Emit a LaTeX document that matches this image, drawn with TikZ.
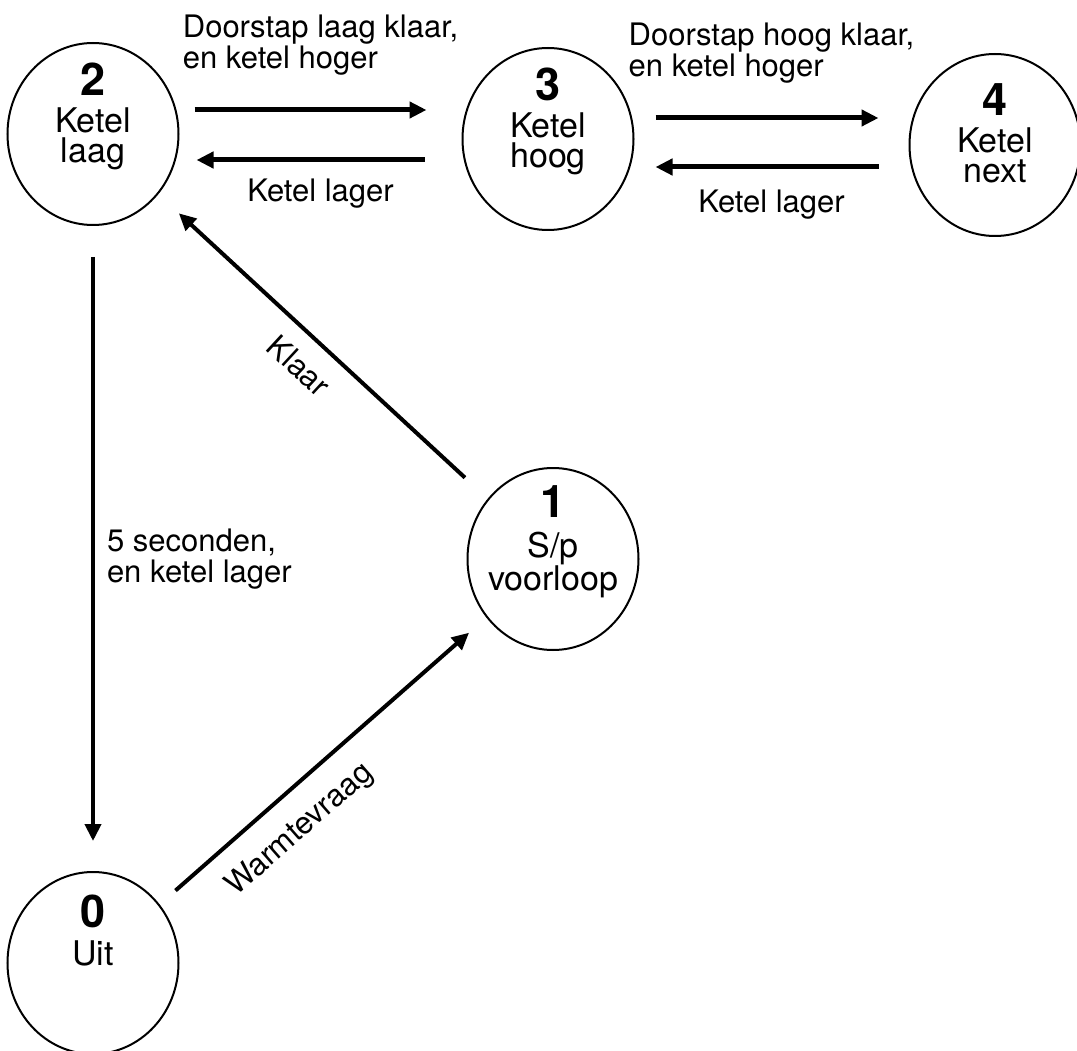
\documentclass[tikz,border=0pt]{standalone}
\usepackage{fontspec}
\setmainfont{TeX Gyre Heros}
\usetikzlibrary{arrows.meta,shapes.geometric,positioning}
\newcommand\statenum[1]{{\fontsize{45}{45}\selectfont\bfseries #1}}
\tikzset{
  kstate/.style={draw, ellipse, line width=2pt, minimum width=171pt, minimum height=182pt, inner sep=0pt},
  statetext/.style={align=center, inner sep=0pt, font=\fontsize{34}{30}\selectfont},
  trans/.style={-{Triangle[length=17pt,width=16pt]}, line width=4pt},
  lbl/.style={font=\fontsize{31}{31}\selectfont, align=left, inner sep=0pt}
}
\begin{document}
\begin{tikzpicture}[x=1pt,y=-1pt]
      \useasboundingbox (0,0) rectangle (1077,1051);
      \node[kstate, label={[statetext, yshift=18pt]center:{\statenum{2}\\[7pt]Ketel\\laag}}] (n2) at (93,134) {};
      \node[kstate, label={[statetext, yshift=18pt]center:{\statenum{3}\\[7pt]Ketel\\hoog}}] (n3) at (548,139) {};
      \node[kstate, label={[statetext, yshift=12pt]center:{\statenum{4}\\[7pt]Ketel\\next}}] (n4) at (995,145) {};
      \node[kstate, label={[statetext, yshift=17pt]center:{\statenum{1}\\[10pt]S/p\\voorloop}}] (n1) at (553,559) {};
      \node[kstate, label={[statetext, yshift=32pt]center:{\statenum{0}\\[8pt]Uit}}] (n0) at (93,963) {};
      \begin{scope}[trans]
        \draw[line width=5pt, shorten <=15pt, shorten >=35pt] ([yshift=24pt]n2.east) to
          node[lbl, above=32pt] {Doorstap laag klaar,\\en ketel hoger} ([yshift=29pt]n3.west);
        \draw[line width=5pt, shorten <=37pt, shorten >=17pt] ([yshift=-21pt]n3.west) to
          node[lbl, below=16pt] {Ketel lager} ([yshift=-26pt]n2.east);
        \draw[line width=5pt, shorten <=21pt, shorten >=30pt] ([yshift=21pt]n3.east) to
          node[lbl, above=32pt] {Doorstap hoog klaar,\\en ketel hoger} ([yshift=27pt]n4.west);
        \draw[line width=5pt, shorten <=30pt, shorten >=21pt] ([yshift=-22pt]n4.west) to
          node[lbl, below=20pt] {Ketel lager} ([yshift=-28pt]n3.east);
        \draw[shorten <=31pt, shorten >=30pt] (n2.south) to
          node[lbl, pos=0.516, right=12pt] {5 seconden,\\en ketel lager} (n0.north);
        \draw[shorten <=31pt, shorten >=28pt] (n1) to
          node[lbl, pos=0.51, sloped, below=17pt] {Klaar} (n2);
        \draw[shorten <=21pt, shorten >=23pt] (n0) to
          node[lbl, pos=0.355, sloped, below=20pt] {Warmtevraag} (n1);
      \end{scope}
    \end{tikzpicture}
\end{document}
